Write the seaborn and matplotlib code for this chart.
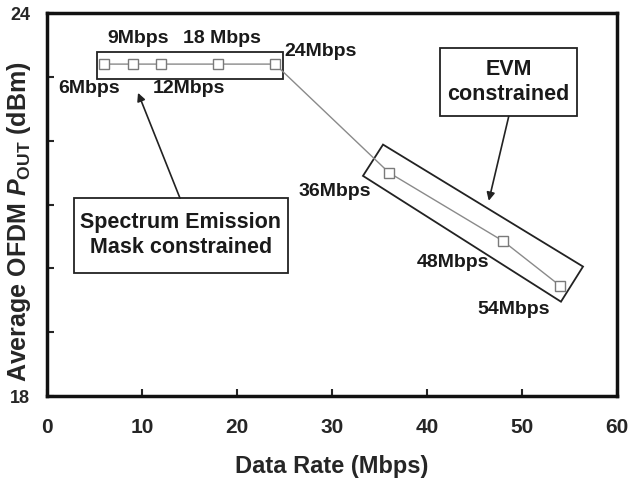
import matplotlib
matplotlib.use("Agg")
import matplotlib.pyplot as plt
from matplotlib.patches import Rectangle, Polygon
import seaborn as sns
import pandas as pd

# data
rates = [6, 9, 12, 18, 24, 36, 48, 54]
pout = [23.2, 23.2, 23.2, 23.2, 23.2, 21.5, 20.43, 19.73]
rate_labels = ["6Mbps", "9Mbps", "12Mbps", "18 Mbps", "24Mbps", "36Mbps", "48Mbps", "54Mbps"]
label_pos = [(4.4, 22.82), (9.6, 23.6), (14.9, 22.82), (18.4, 23.6), (28.8, 23.4),
             (30.3, 21.2), (42.7, 20.1), (49.1, 19.36)]

sns.set_style("ticks")
plt.rcParams["font.family"] = ["Liberation Sans", "DejaVu Sans"]
plt.rcParams["font.weight"] = "bold"
plt.rcParams["mathtext.fontset"] = "custom"
plt.rcParams["mathtext.rm"] = "Liberation Sans:bold"
plt.rcParams["mathtext.it"] = "Liberation Sans:italic:bold"
plt.rcParams["mathtext.bf"] = "Liberation Sans:bold"

df = pd.DataFrame({"rate": rates, "pout": pout})

fig = plt.figure(figsize=(6.3, 4.82), dpi=100)
ax = fig.add_axes([0.0746, 0.178, 0.9048, 0.795])

sns.lineplot(data=df, x="rate", y="pout", ax=ax, color="#8a8a8a", linewidth=1.0,
             marker="s", markersize=6.5, markerfacecolor="white",
             markeredgecolor="#7a7a7a", markeredgewidth=1.0, sort=False)

ax.set_xlim(0, 60)
ax.set_ylim(18, 24)
ax.set_xticks(range(0, 61, 10))
ax.set_yticks(range(18, 25))
ax.set_yticklabels(["18", "", "", "", "", "", "24"])
ax.tick_params(axis="both", direction="in", length=5, width=1.5)
ax.tick_params(axis="x", pad=16, labelsize=15)
ax.tick_params(axis="y", pad=12, labelsize=13)
for lab in ax.get_xticklabels() + ax.get_yticklabels():
    lab.set_fontweight("bold")
for s in ax.spines.values():
    s.set_visible(True)
    s.set_linewidth(2.5)
    s.set_color("#111111")

ax.set_xlabel("Data Rate (Mbps)", fontsize=17, fontweight="bold", labelpad=13)
ax.set_ylabel(r"Average OFDM $P_{\mathrm{OUT}}$ (dBm)", fontsize=18,
              fontweight="bold")
ax.yaxis.set_label_coords(-0.024, 0.455)

# point labels
for t, (x, y) in zip(rate_labels, label_pos):
    ax.text(x, y, t, ha="center", va="center", fontsize=14, fontweight="bold",
            color="#1a1a1a")

# box around the SEM-constrained points
ax.add_patch(Rectangle((5.26, 22.97), 24.8 - 5.26, 23.39 - 22.97, fill=False,
                       edgecolor="#222222", linewidth=1.3))
# rotated box around EVM-constrained points
ax.add_patch(Polygon([(35.37, 21.94), (33.26, 21.45), (54.1, 19.48), (56.42, 20.03)],
                     closed=True, fill=False, edgecolor="#222222", linewidth=1.3))

# annotation boxes
ax.add_patch(Rectangle((2.84, 19.93), 25.37 - 2.84, 21.10 - 19.93, fill=False,
                       edgecolor="#222222", linewidth=1.3))
ax.text(14.1, 20.52, "Spectrum Emission\nMask constrained", ha="center", va="center",
        fontsize=15.5, fontweight="bold", color="#1a1a1a", linespacing=1.25)
ax.add_patch(Rectangle((41.37, 22.38), 55.79 - 41.37, 23.45 - 22.38, fill=False,
                       edgecolor="#222222", linewidth=1.3))
ax.text(48.6, 22.92, "EVM\nconstrained", ha="center", va="center",
        fontsize=15.5, fontweight="bold", color="#1a1a1a", linespacing=1.25)

# arrows
ax.annotate("", xy=(9.58, 22.75), xytext=(14.0, 21.10),
            arrowprops=dict(arrowstyle="-|>", color="#222222", lw=1.2,
                            mutation_scale=12, shrinkA=0, shrinkB=0))
ax.annotate("", xy=(46.5, 21.06), xytext=(48.6, 22.38),
            arrowprops=dict(arrowstyle="-|>", color="#222222", lw=1.2,
                            mutation_scale=12, shrinkA=0, shrinkB=0))

fig.savefig("out.png", dpi=100)
